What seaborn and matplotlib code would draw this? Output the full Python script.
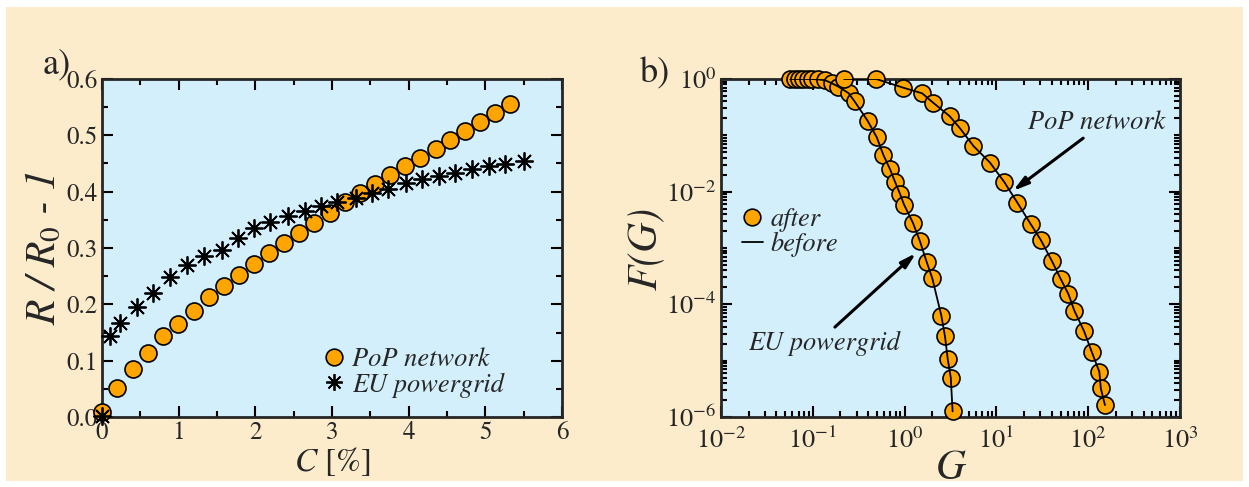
import numpy as np
import matplotlib
matplotlib.use("Agg")
import matplotlib.pyplot as plt
from matplotlib.patches import Rectangle
from matplotlib.lines import Line2D
from matplotlib.ticker import MultipleLocator, LogLocator, NullFormatter
import seaborn as sns

## Datos panel a) - resistencia relativa frente a C [%]
c_pop = [0.0, 0.2, 0.4, 0.6, 0.8, 0.99, 1.2, 1.39, 1.59, 1.78, 1.98, 2.18, 2.37, 2.57, 2.77, 2.97,
         3.17, 3.37, 3.56, 3.75, 3.95, 4.15, 4.35, 4.54, 4.74, 4.93, 5.13, 5.32]
r_pop = [0.009, 0.051, 0.085, 0.113, 0.143, 0.165, 0.189, 0.213, 0.233, 0.252, 0.271, 0.291, 0.309,
         0.327, 0.345, 0.362, 0.381, 0.397, 0.414, 0.430, 0.445, 0.459, 0.475, 0.492, 0.507, 0.523,
         0.539, 0.555]

c_eu = [0.0, 0.11, 0.24, 0.45, 0.67, 0.88, 1.11, 1.33, 1.56, 1.77, 1.98, 2.19, 2.43, 2.65, 2.86,
        3.07, 3.31, 3.52, 3.73, 3.96, 4.17, 4.39, 4.61, 4.83, 5.05, 5.26, 5.50]
r_eu = [0.002, 0.144, 0.166, 0.195, 0.221, 0.248, 0.270, 0.285, 0.297, 0.317, 0.335, 0.347, 0.357,
        0.365, 0.375, 0.381, 0.388, 0.397, 0.404, 0.415, 0.422, 0.427, 0.433, 0.440, 0.445, 0.449,
        0.455]

## Datos panel b) - distribucion acumulada F(G)
g_eu = [0.0565, 0.064, 0.0713, 0.0789, 0.0879, 0.0973, 0.115, 0.136, 0.161, 0.190, 0.245, 0.285,
        0.396, 0.497, 0.586, 0.693, 0.785, 0.891, 0.984, 1.23, 1.46, 1.74, 2.00, 2.51, 2.75, 2.95,
        3.18, 3.33]
f_eu = [1.0, 1.0, 1.0, 1.0, 1.0, 1.0, 0.98, 0.95, 0.84, 0.73, 0.56, 0.40, 0.18, 0.092, 0.045, 0.025,
        0.015, 0.0091, 0.0059, 0.0028, 0.00135, 5.6e-4, 2.9e-4, 6.3e-5, 2.7e-5, 1.05e-5, 5.0e-6,
        1.26e-6]

g_pop = [0.219, 0.489, 0.968, 1.55, 2.04, 3.09, 4.01, 5.62, 8.51, 12.1, 16.9, 23.7, 30.4, 40.0,
         50.1, 60.8, 70.6, 89.9, 109, 132, 137, 152]
f_pop = [1.0, 1.0, 0.70, 0.557, 0.38, 0.219, 0.133, 0.0646, 0.0327, 0.0150, 0.00638, 0.00263,
         0.00139, 5.96e-4, 2.82e-4, 1.52e-4, 7.71e-5, 3.36e-5, 1.44e-5, 6.37e-6, 3.23e-6, 1.63e-6]

## Colores
fondo = "#FCECCC"
fondo_ejes = "#D3EFFB"
naranja = "#FFA500"
asterisco = (8, 2, 0)

sns.set_style("ticks")
plt.rcParams["font.family"] = ["STIXGeneral", "DejaVu Serif"]
plt.rcParams["mathtext.fontset"] = "stix"

fig = plt.figure(figsize=(12.49, 4.87), dpi=100, facecolor="white")
fig.patches.append(Rectangle((0.0048, 0.0123), 0.9904, 0.9733, transform=fig.transFigure,
                             facecolor=fondo, edgecolor="none", zorder=-10))

ax1 = fig.add_axes([0.0817, 0.1437, 0.3683, 0.6941])
ax2 = fig.add_axes([0.5773, 0.1437, 0.3675, 0.6941])

for ax in (ax1, ax2):
    ax.set_facecolor(fondo_ejes)
    for sp in ax.spines.values():
        sp.set_linewidth(2)
        sp.set_visible(True)
    ax.tick_params(which="both", direction="in", top=True, right=True, width=1.5, color="black")
    ax.tick_params(which="major", length=8)
    ax.tick_params(which="minor", length=4)

# %% Panel a)
sns.scatterplot(x=c_pop, y=r_pop, ax=ax1, s=150, color=naranja, edgecolor="black",
                linewidth=1.2, zorder=3, clip_on=False, legend=False)
ax1.plot(c_eu, r_eu, linestyle="none", marker=asterisco, markersize=13, markeredgewidth=1.3,
         color="black", zorder=4, clip_on=False)

ax1.xaxis.set_major_locator(MultipleLocator(1))
ax1.xaxis.set_minor_locator(MultipleLocator(0.5))
ax1.set_yticks([0.0, 0.1, 0.2, 0.3, 0.4, 0.5, 0.6])
ax1.set_yticklabels(["0.0", "0.1", "0.2", "0.3", "0.4", "0.5", "0.6"])
ax1.yaxis.set_minor_locator(MultipleLocator(0.05))
ax1.tick_params(axis="x", labelsize=18, pad=3)
ax1.tick_params(axis="y", labelsize=18, pad=3)
ax1.set_xlim(0, 6)
ax1.set_ylim(0, 0.6)

ax1.set_xlabel(r"$C$ [%]", fontsize=24, labelpad=0)
ax1.set_ylabel(r"$R$ / $R_{\mathit{0}}$ - 1", fontsize=30, fontstyle="italic", labelpad=2)

leyenda1 = [Line2D([], [], linestyle="none", marker="o", markersize=12, markerfacecolor=naranja,
                   markeredgecolor="black", markeredgewidth=1.2, label="PoP network"),
            Line2D([], [], linestyle="none", marker=asterisco, markersize=12, color="black",
                   markeredgewidth=1.3, label="EU powergrid")]
ax1.legend(handles=leyenda1, loc="upper left", bbox_to_anchor=(0.475, 0.205), frameon=False,
           prop={"style": "italic", "size": 19}, handletextpad=0.2, handlelength=1.0,
           labelspacing=0.0, borderpad=0, borderaxespad=0)

# %% Panel b)
sns.scatterplot(x=g_eu, y=f_eu, ax=ax2, s=150, color=naranja, edgecolor="black",
                linewidth=1.2, zorder=3, clip_on=False, legend=False)
sns.scatterplot(x=g_pop, y=f_pop, ax=ax2, s=150, color=naranja, edgecolor="black",
                linewidth=1.2, zorder=3, clip_on=False, legend=False)
sns.lineplot(x=g_eu, y=f_eu, ax=ax2, sort=False, estimator=None, color="black", linewidth=1.3,
             zorder=4)
sns.lineplot(x=g_pop, y=f_pop, ax=ax2, sort=False, estimator=None, color="black", linewidth=1.3,
             zorder=4)

ax2.set_xscale("log")
ax2.set_yscale("log")
ax2.set_xticks([1e-2, 1e-1, 1e0, 1e1, 1e2, 1e3])
ax2.set_yticks([1e-6, 1e-4, 1e-2, 1e0])
ax2.xaxis.set_minor_locator(LogLocator(base=10, subs=np.arange(2, 10), numticks=100))
ax2.yaxis.set_minor_locator(LogLocator(base=10, subs=np.arange(1, 10), numticks=100))
ax2.xaxis.set_minor_formatter(NullFormatter())
ax2.yaxis.set_minor_formatter(NullFormatter())
ax2.tick_params(axis="both", labelsize=19)
ax2.tick_params(axis="x", pad=8)
ax2.set_xlim(1e-2, 1e3)
ax2.set_ylim(1e-6, 1e0)

ax2.set_xlabel("G", fontsize=30, fontstyle="italic", labelpad=-4)
ax2.set_ylabel("F(G)", fontsize=30, fontstyle="italic", labelpad=0)

leyenda2 = [Line2D([], [], linestyle="none", marker="o", markersize=12, markerfacecolor=naranja,
                   markeredgecolor="black", markeredgewidth=1.2, label="after"),
            Line2D([], [], color="black", linewidth=1.3, label="before")]
ax2.legend(handles=leyenda2, loc="upper left", bbox_to_anchor=(0.045, 0.62), frameon=False,
           prop={"style": "italic", "size": 19}, handletextpad=0.3, handlelength=0.8,
           labelspacing=0.0, borderpad=0, borderaxespad=0)

# Flechas y etiquetas
ax2.annotate("", xy=(0.425, 0.485), xytext=(0.248, 0.266), xycoords="axes fraction",
             arrowprops=dict(arrowstyle="-|>,head_width=0.25,head_length=0.9", color="black",
                             lw=2.2, shrinkA=0, shrinkB=0))
ax2.text(0.059, 0.219, "EU powergrid", transform=ax2.transAxes, fontsize=19, fontstyle="italic",
         va="center", ha="left")
ax2.annotate("", xy=(0.636, 0.669), xytext=(0.789, 0.825), xycoords="axes fraction",
             arrowprops=dict(arrowstyle="-|>,head_width=0.25,head_length=0.9", color="black",
                             lw=2.2, shrinkA=0, shrinkB=0))
ax2.text(0.669, 0.870, "PoP network", transform=ax2.transAxes, fontsize=19, fontstyle="italic",
         va="center", ha="left")

# Etiquetas de panel
fig.text(0.034, 0.848, "a)", fontsize=26)
fig.text(0.512, 0.83, "b)", fontsize=26)

fig.savefig("out.png", dpi=100, facecolor="white")
